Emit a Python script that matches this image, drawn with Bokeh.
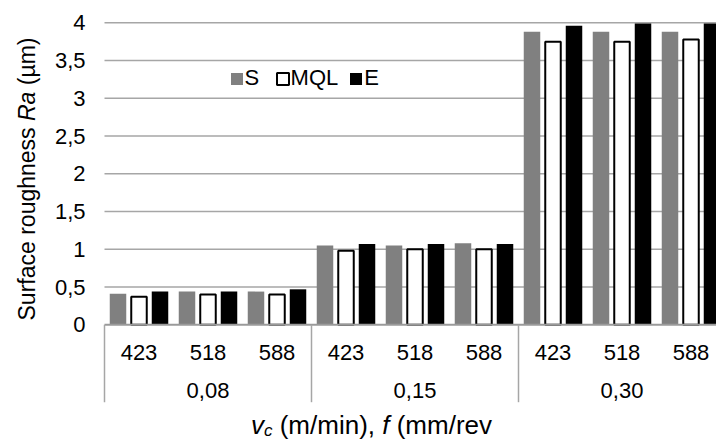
import math
import numpy as np
from bokeh.plotting import figure
from bokeh.models import Range1d, Legend, LegendItem
from bokeh.core.properties import value
from bokeh.embed import file_html
from bokeh.resources import INLINE

# ---------------- data ----------------
feeds = ["0,08", "0,15", "0,30"]          # f (mm/rev)
speeds = ["423", "518", "588"]            # vc (m/min)
series = ["S", "MQL", "E"]
ra_S = [0.41, 0.44, 0.44, 1.05, 1.05, 1.08, 3.88, 3.88, 3.88]
ra_MQL = [0.37, 0.40, 0.40, 0.98, 1.00, 1.00, 3.75, 3.75, 3.78]
ra_E = [0.44, 0.44, 0.47, 1.07, 1.07, 1.07, 3.96, 3.99, 3.99]
y_ticks = [0, 0.5, 1, 1.5, 2, 2.5, 3, 3.5, 4]
y_tick_labels = ["0", "0,5", "1", "1,5", "2", "2,5", "3", "3,5", "4"]

# ---------------- layout constants ----------------
FONT = "Liberation Sans"
W, H = 716, 445
PLOT_LEFT = 104               # pixel column of the category axis start
CAT_PX = 69.0                 # pixels per category
Y0_PX = 324.3                 # pixel row of value 0
PX_PER_UNIT = 75.5            # pixels per 1 um
n_cat = len(feeds) * len(speeds)


def ydata(px):
    return (Y0_PX - px) / PX_PER_UNIT


def xdata(px):
    return (px - PLOT_LEFT) / CAT_PX


p = figure(width=W, height=H, output_backend="svg", toolbar_location=None,
           x_range=Range1d(xdata(0), xdata(W)),
           y_range=Range1d(ydata(H), ydata(0)),
           x_axis_location=None, y_axis_location=None,
           min_border_left=0, min_border_right=0,
           min_border_top=0, min_border_bottom=0)
p.outline_line_color = None
p.background_fill_color = "white"
p.border_fill_color = "white"
p.xgrid.visible = False
p.ygrid.visible = False

GRID = "#a6a6a6"

# horizontal grid lines (value axis)
gy = y_ticks[1:]
p.segment(x0=[0] * len(gy), y0=gy, x1=[n_cat] * len(gy), y1=gy,
          line_color=GRID, line_width=1.5)

# value-axis tick labels
p.text(x=[xdata(85)] * len(y_ticks), y=y_ticks, text=y_tick_labels,
       text_font=value(FONT), text_font_size="22px", text_color="black",
       text_align="right", text_baseline="middle")

# bars
idx = np.arange(n_cat) + 0.5
off = 21.0 / CAT_PX
bw = 16.5 / CAT_PX
rS = p.vbar(x=idx - off, top=ra_S, bottom=0, width=bw,
            fill_color="#808080", line_color=None)
rM = p.vbar(x=idx, top=ra_MQL, bottom=0, width=15.5 / CAT_PX,
            fill_color="white", line_color="black", line_width=2)
rE = p.vbar(x=idx + off, top=ra_E, bottom=0, width=bw,
            fill_color="black", line_color=None)

# category axis: baseline, group separators, labels
p.segment(x0=[0], y0=[0], x1=[n_cat], y1=[0], line_color="#9a9a9a", line_width=2)
bounds = [i * len(speeds) for i in range(len(feeds) + 1)]
p.segment(x0=bounds, y0=[0] * len(bounds), x1=bounds,
          y1=[ydata(401.7)] * len(bounds), line_color=GRID, line_width=1.5)

p.text(x=list(idx), y=[ydata(351.7)] * n_cat, text=speeds * len(feeds),
       text_font=value(FONT), text_font_size="22px", text_color="black",
       text_align="center", text_baseline="middle")
gcent = [(i + 0.5) * len(speeds) for i in range(len(feeds))]
p.text(x=gcent, y=[ydata(390)] * len(feeds), text=feeds,
       text_font=value(FONT), text_font_size="22px", text_color="black",
       text_align="center", text_baseline="middle")

# Arial / Liberation Sans advance widths (per 1000 em)
AW = {"v": 500, "c": 500, " ": 278, "(": 333, ")": 333, "m": 833, "/": 278,
      "i": 222, "n": 556, ",": 278, "f": 278, "r": 333, "e": 556, "S": 667,
      "u": 556, "a": 556, "o": 556, "g": 556, "h": 556, "s": 500, "R": 722,
      "µ": 576}


def tw(s, size):
    return sum(AW.get(ch, 556) for ch in s) * size / 1000.0


# x-axis title: v_c (m/min), f (mm/rev   (pieces: text, style, size, dy, space before)
XT, XS = 26, 17
xpieces = [("v", "italic", XT, 0, 0), ("c", "italic", XS, 6, 0),
           ("(m/min),", "normal", XT, 0, 1), ("f", "italic", XT, 0, 1),
           ("(mm/rev", "normal", XT, 0, 1)]
total = sum(tw(t, s) + sp * tw(" ", XT) for t, _, s, _, sp in xpieces)
cur = 371 - total / 2
for t, st, s, dy, sp in xpieces:
    cur += sp * tw(" ", XT)
    p.text(x=[xdata(cur)], y=[ydata(424 + dy)], text=[t],
           text_font=value(FONT), text_font_size=f"{s}px",
           text_font_style=st, text_color="black",
           text_align="left", text_baseline="middle")
    cur += tw(t, s)

# value-axis title: Surface roughness Ra (µm)  (rotated, reads upwards)
YT = 23
ypieces = [("Surface roughness", "normal", 0), ("Ra", "italic", 1), ("(µm)", "normal", 1)]
ytotal = sum(tw(t, YT) + sp * tw(" ", YT) for t, _, sp in ypieces)
curp = 178.5 + ytotal / 2
for t, st, sp in ypieces:
    curp -= sp * tw(" ", YT)
    p.text(x=[xdata(26)], y=[ydata(curp)], text=[t], angle=math.pi / 2,
           text_font=value(FONT), text_font_size=f"{YT}px",
           text_font_style=st, text_color="black",
           text_align="left", text_baseline="middle")
    curp -= tw(t, YT)

# legend
legend = Legend(items=[LegendItem(label=series[0], renderers=[rS]),
                       LegendItem(label=series[1], renderers=[rM]),
                       LegendItem(label=series[2], renderers=[rE])],
                orientation="horizontal", location=(228.6, 354),
                glyph_width=15, glyph_height=15, label_standoff=1, spacing=10,
                padding=0, margin=0, border_line_color=None,
                background_fill_alpha=0, label_text_font=FONT,
                label_text_font_size="22px", label_text_color="black",
                label_height=15)
p.add_layout(legend)

open("out.html", "w").write(file_html(p, INLINE))
